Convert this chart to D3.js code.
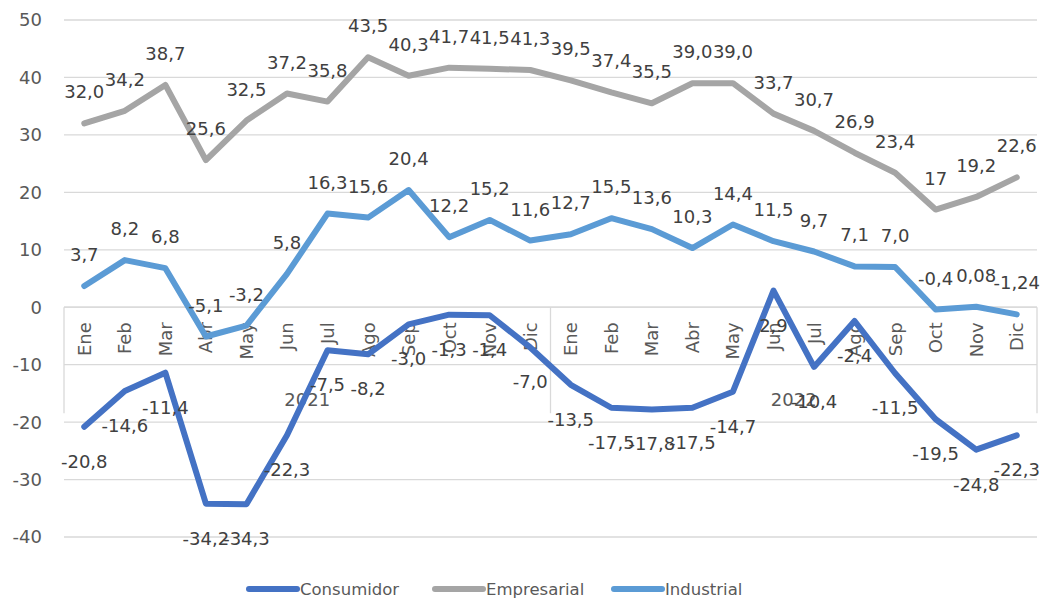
<!DOCTYPE html>
<html><head><meta charset="utf-8">
<script src="https://cdn.jsdelivr.net/npm/d3@7/dist/d3.min.js"></script>
<style>
html,body{margin:0;padding:0;background:#fff;}
svg{display:block;font-family:"DejaVu Sans","Noto Sans",sans-serif;}
</style></head>
<body><svg id="chart" width="1044" height="601"></svg>
<script>
const months = ["Ene","Feb","Mar","Abr","May","Jun","Jul","Ago","Sep","Oct","Nov","Dic"];
const years = ["2021","2022"];
const consumidor = [-20.8,-14.6,-11.4,-34.2,-34.3,-22.3,-7.5,-8.2,-3.0,-1.3,-1.4,-7.0,-13.5,-17.5,-17.8,-17.5,-14.7,2.9,-10.4,-2.4,-11.5,-19.5,-24.8,-22.3];
const empresarial = [32.0,34.2,38.7,25.6,32.5,37.2,35.8,43.5,40.3,41.7,41.5,41.3,39.5,37.4,35.5,39.0,39.0,33.7,30.7,26.9,23.4,17,19.2,22.6];
const industrial = [3.7,8.2,6.8,-5.1,-3.2,5.8,16.3,15.6,20.4,12.2,15.2,11.6,12.7,15.5,13.6,10.3,14.4,11.5,9.7,7.1,7.0,-0.4,0.08,-1.24];
const consumidorLabels = ["-20,8","-14,6","-11,4","-34,2","-34,3","-22,3","-7,5","-8,2","-3,0","-1,3","-1,4","-7,0","-13,5","-17,5","-17,8","-17,5","-14,7","2,9","-10,4","-2,4","-11,5","-19,5","-24,8","-22,3"];
const empresarialLabels = ["32,0","34,2","38,7","25,6","32,5","37,2","35,8","43,5","40,3","41,7","41,5","41,3","39,5","37,4","35,5","39,0","39,0","33,7","30,7","26,9","23,4","17","19,2","22,6"];
const industrialLabels = ["3,7","8,2","6,8","-5,1","-3,2","5,8","16,3","15,6","20,4","12,2","15,2","11,6","12,7","15,5","13,6","10,3","14,4","11,5","9,7","7,1","7,0","-0,4","0,08","-1,24"];
const yTicks = [-40,-30,-20,-10,0,10,20,30,40,50];
const seriesNames = ["Consumidor","Empresarial","Industrial"];

const svg = d3.select("#chart");
const L = 64, R = 1037, T = 20, B = 537;
const FS = 18, FSL = 16.5;
const cats = d3.range(24);
const x = d3.scaleBand().domain(cats).range([L, R]);
const xc = i => x(i) + x.bandwidth()/2;
const y = d3.scaleLinear().domain([-40, 50]).range([B, T]);

// gridlines
svg.append("g").selectAll("line").data(yTicks).join("line")
  .attr("x1", L).attr("x2", R).attr("y1", d => y(d)).attr("y2", d => y(d))
  .attr("stroke", "#d9d9d9").attr("stroke-width", 1.3);

// y labels
svg.append("g").selectAll("text").data(yTicks).join("text")
  .attr("x", 42).attr("y", d => y(d)).attr("dy", "0.36em")
  .attr("text-anchor", "end").attr("fill", "#595959").attr("font-size", FS)
  .text(d => d);

// category axis at 0
const y0 = y(0);
const axisG = svg.append("g");
axisG.append("line").attr("x1", L).attr("x2", R).attr("y1", y0).attr("y2", y0)
  .attr("stroke", "#d9d9d9").attr("stroke-width", 1.3);
const groupEdges = [L, x(12), R];
axisG.selectAll("line.sep").data(groupEdges).join("line").attr("class","sep")
  .attr("x1", d => d).attr("x2", d => d).attr("y1", y0).attr("y2", y0 + 106)
  .attr("stroke", "#d9d9d9").attr("stroke-width", 1.3);
axisG.selectAll("text.m").data(cats).join("text").attr("class","m")
  .attr("transform", i => `translate(${xc(i)},${y0 + 15}) rotate(-90)`)
  .attr("dy", "0.36em").attr("text-anchor", "end")
  .attr("fill", "#595959").attr("font-size", FS)
  .text(i => months[i % 12]);
axisG.selectAll("text.yr").data(years).join("text").attr("class","yr")
  .attr("x", (d, k) => (x(k*12) + x(k*12+11) + x.bandwidth())/2)
  .attr("y", y0 + 92).attr("dy", "0.36em").attr("text-anchor", "middle")
  .attr("fill", "#595959").attr("font-size", FS)
  .text(d => d);

const series = [
  {name: seriesNames[0], values: consumidor, labels: consumidorLabels, color: "#4472C4", pos: "below"},
  {name: seriesNames[1], values: empresarial, labels: empresarialLabels, color: "#A5A5A5", pos: "above"},
  {name: seriesNames[2], values: industrial, labels: industrialLabels, color: "#5B9BD5", pos: "above"}
];

const line = d3.line().x((d, i) => xc(i)).y(d => y(d));
series.forEach(s => {
  svg.append("path").datum(s.values).attr("d", line)
    .attr("fill", "none").attr("stroke", s.color).attr("stroke-width", 6)
    .attr("stroke-linejoin", "round").attr("stroke-linecap", "round");
});
series.forEach(s => {
  svg.append("g").selectAll("text").data(s.values).join("text")
    .attr("x", (d, i) => xc(i))
    .attr("y", d => s.pos === "above" ? y(d) - 25 : y(d) + 41)
    .attr("text-anchor", "middle").attr("fill", "#404040").attr("font-size", FS)
    .text((d, i) => s.labels[i]);
});

// legend
const legX = [249, 435, 614];
const leg = svg.append("g");
series.forEach((s, k) => {
  leg.append("line").attr("x1", legX[k]).attr("x2", legX[k] + 48)
    .attr("y1", 589).attr("y2", 589).attr("stroke", s.color).attr("stroke-width", 6)
    .attr("stroke-linecap", "round");
  leg.append("text").attr("x", legX[k] + 51).attr("y", 589).attr("dy", "0.36em")
    .attr("fill", "#595959").attr("font-size", FSL).text(s.name);
});
</script></body></html>
